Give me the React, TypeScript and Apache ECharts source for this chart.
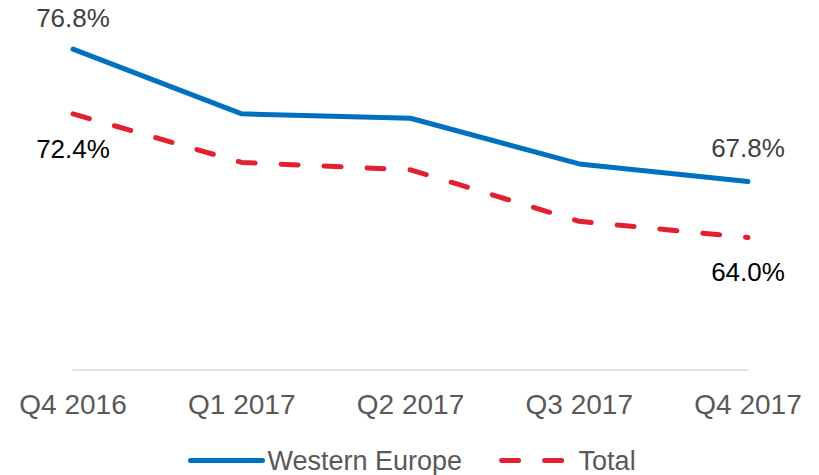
import React, { useEffect, useRef } from "react";
import * as echarts from "echarts";

const categories = ["Q4 2016", "Q1 2017", "Q2 2017", "Q3 2017", "Q4 2017"];
const westernEurope = [76.8, 72.4, 72.1, 69.0, 67.8];
const total = [72.4, 69.1, 68.6, 65.1, 64.0];

const FONT = "'Liberation Sans', Arial, sans-serif";
const BLUE = "#0070c0";
const RED = "#e3202f";

function withEndLabels(values: number[], color: string, pos: "top" | "bottom", dFirst: number, dLast: number) {
  return values.map((v, i) => {
    if (i === 0 || i === values.length - 1) {
      return {
        value: v,
        symbol: "circle",
        symbolSize: 0,
        label: {
          show: true,
          position: pos,
          distance: i === 0 ? dFirst : dLast,
          formatter: (p: any) => p.value.toFixed(1) + "%",
          fontSize: 26,
          fontFamily: FONT,
          color,
        },
      };
    }
    return v;
  });
}

export default function App() {
  const ref = useRef<HTMLDivElement>(null);
  useEffect(() => {
    if (!ref.current) return;
    const chart = echarts.init(ref.current, undefined, { renderer: "svg" });
    chart.setOption({
      animation: false,
      backgroundColor: "#ffffff",
      grid: { left: 73, right: 71, top: 2, bottom: 105, containLabel: false },
      xAxis: {
        type: "category",
        data: categories,
        boundaryGap: false,
        axisLine: { show: true, lineStyle: { color: "#d9d9d9", width: 1.5 } },
        axisTick: { show: false },
        axisLabel: { fontSize: 28, fontFamily: FONT, color: "#595959", margin: 20 },
      },
      yAxis: {
        type: "value",
        min: 55,
        max: 80,
        show: false,
        splitLine: { show: false },
      },
      legend: {
        left: 188,
        top: 447,
        padding: 0,
        itemWidth: 72,
        itemHeight: 14,
        itemGap: 37,
        textStyle: { fontSize: 27, fontFamily: FONT, color: "#595959", lineHeight: 27 },
        itemStyle: { color: "rgba(0,0,0,0)", borderWidth: 0, opacity: 0 },
        data: [
          {
            name: "Western Europe",
            lineStyle: { color: BLUE, width: 5, cap: "round", type: "solid" },
            itemStyle: { opacity: 0 },
          },
          {
            name: "Total",
            lineStyle: { color: RED, width: 5, cap: "round", type: [17, 26] },
            itemStyle: { opacity: 0 },
          },
        ],
      },
      series: [
        {
          name: "Western Europe",
          type: "line",
          symbol: "none",
          data: withEndLabels(westernEurope, "#404040", "top", 18, 21),
          lineStyle: { color: BLUE, width: 5, cap: "round", join: "round" },
          itemStyle: { color: BLUE },
        },
        {
          name: "Total",
          type: "line",
          symbol: "none",
          data: withEndLabels(total, "#000000", "bottom", 22, 21),
          lineStyle: { color: RED, width: 5, type: [17, 26], cap: "round", join: "round" },
          itemStyle: { color: RED },
        },
      ],
    });
    return () => chart.dispose();
  }, []);
  return (
    <div
      ref={ref}
      style={{ position: "fixed", left: 0, top: 0, width: 819, height: 475 }}
    />
  );
}
